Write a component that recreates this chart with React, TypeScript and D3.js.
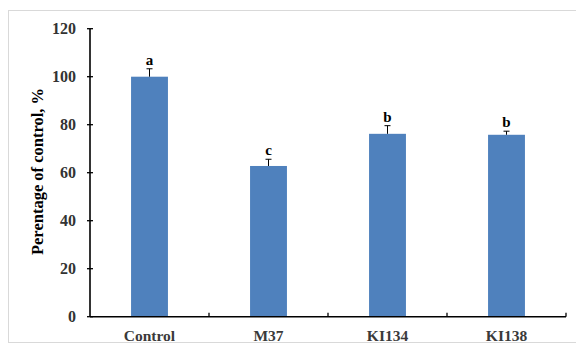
import React from "react";
import * as d3 from "d3";

const categories = ["Control", "M37", "KI134", "KI138"];
const values = [100, 62.8, 76.2, 75.8];
const errors = [3.3, 2.8, 3.4, 1.5];
const letters = ["a", "c", "b", "b"];
const yTicks = [0, 20, 40, 60, 80, 100, 120];

export default function App() {
  const W = 576, H = 351;
  const left = 90, right = 566, top = 28.7, bottom = 316.7;
  const x = d3.scaleBand<string>().domain(categories).range([left, right]).paddingInner(0).paddingOuter(0);
  const y = d3.scaleLinear().domain([0, 120]).range([bottom, top]);
  const bw = x.bandwidth() * 0.31;
  const font = "'Liberation Serif', 'Times New Roman', serif";
  const boundaries = categories.map((c) => (x(c) as number) + x.bandwidth());
  return (
    <svg width={W} height={H} style={{ position: "absolute", left: 0, top: 0, background: "#fff" }} fontFamily={font}>
      <rect x={8.5} y={10.5} width={620} height={332} fill="#fff" stroke="#d9d9d9" strokeWidth={1} />
      {categories.map((c, i) => {
        const cx = (x(c) as number) + x.bandwidth() / 2;
        const yt = y(values[i]);
        const ye = y(values[i] + errors[i]);
        return (
          <g key={c}>
            <rect x={cx - bw / 2} y={yt} width={bw} height={bottom - yt} fill="#4F81BD" />
            <line x1={cx} x2={cx} y1={yt} y2={ye} stroke="#000" strokeWidth={1} />
            <line x1={cx - 3} x2={cx + 3} y1={ye} y2={ye} stroke="#000" strokeWidth={1} />
            <text x={cx} y={ye - 4} textAnchor="middle" fontSize={15} fontWeight="bold" fill="#000">{letters[i]}</text>
            <text x={cx} y={341} textAnchor="middle" fontSize={15.5} fontWeight="bold" fill="#3a3a3a">{c}</text>
          </g>
        );
      })}
      {/* y axis */}
      <line x1={left} x2={left} y1={top} y2={bottom} stroke="#000" strokeWidth={1.6} />
      {yTicks.map((t) => (
        <g key={t}>
          <line x1={left - 3} x2={left + 3} y1={y(t)} y2={y(t)} stroke="#000" strokeWidth={1.3} />
          <text x={76} y={y(t) + 5.5} textAnchor="end" fontSize={16} fontWeight="bold" fill="#333">{t}</text>
        </g>
      ))}
      {/* x axis */}
      <line x1={left} x2={right} y1={bottom} y2={bottom} stroke="#000" strokeWidth={1.6} />
      {boundaries.map((b, i) => (
        <line key={i} x1={b} x2={b} y1={bottom} y2={bottom - 4} stroke="#000" strokeWidth={1.3} />
      ))}
      <text transform={`translate(43,171.5) rotate(-90)`} textAnchor="middle" fontSize={16.5} fontWeight="bold" fill="#000">
        Perentage of control, %
      </text>
    </svg>
  );
}
